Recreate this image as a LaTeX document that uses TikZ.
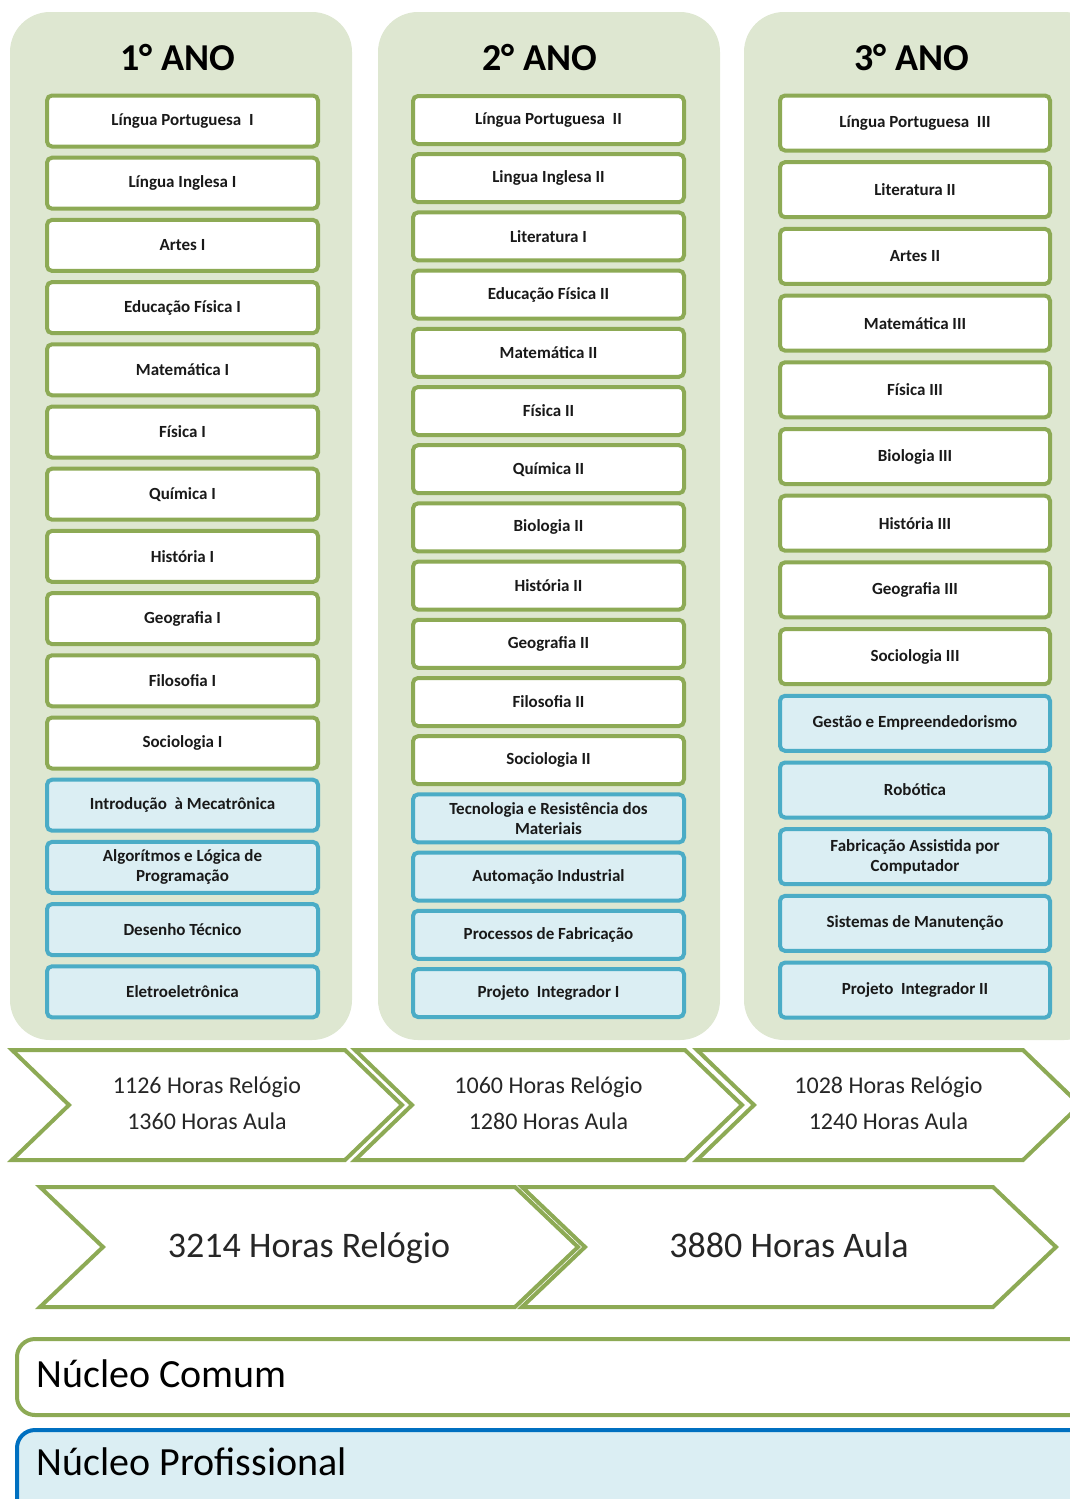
\documentclass[tikz,border=0pt]{standalone}
\usepackage{fontspec}
\setmainfont{Carlito}
\usepackage{tikz}
\definecolor{yearFill}{HTML}{DEE7D1}
\definecolor{commonLine}{HTML}{8DAA55}
\definecolor{profLine}{HTML}{4BACC6}
\definecolor{profFill}{HTML}{DBEEF3}
\definecolor{legendLine}{HTML}{0070C0}
\definecolor{hoursText}{HTML}{262626}

\begin{document}
\begin{tikzpicture}[
  x=1pt,
  y=-1pt,
  every year/.style={
    fill=yearFill,
    rounded corners=40pt,
  },
  year title/.style={
    font=\bfseries\fontsize{38}{40}\selectfont,
  },
  every subject/.style={
    draw,
    line width=4pt,
    rounded corners=5pt,
    inner sep=0pt,
    align=center,
    text=black!90,
    font=\bfseries\fontsize{17}{20}\selectfont,
  },
  common subject/.style={
    every subject/.try,
    draw=commonLine,
    fill=white,
  },
  prof subject/.style={
    every subject/.try,
    draw=profLine,
    fill=profFill,
  },
  col one/.style={minimum width=271pt, minimum height=51pt},
  col two/.style={minimum width=271pt, minimum height=48pt},
  col three/.style={minimum width=270pt, minimum height=55pt},
  chevron/.style={
    draw=commonLine,
    line width=4pt,
    fill=white,
  },
  hours/.style={
    align=center,
    text=hoursText,
    font=\fontsize{24}{36}\selectfont,
  },
  total hours/.style={
    anchor=base,
    text=hoursText,
    font=\fontsize{36}{40}\selectfont,
  },
  legend text/.style={
    anchor=base west,
    font=\fontsize{40}{44}\selectfont,
  }
]
\useasboundingbox (0,0) rectangle (1070,1499);
% year columns
\foreach \x/\w in {10/342, 378/342, 744/360}
  \fill[every year] (\x,12) rectangle ++(\w,1028);
\node[year title] (t1) at (178,58) {1° ANO};
\node[year title] (t2) at (540,58) {2° ANO};
\node[year title] (t3) at (912,58) {3° ANO};
% 1st year
\foreach[count=\k from 0] \s in {Língua Portuguesa~ I, Língua Inglesa I, Artes I,
  Educação Física I, Matemática I, Física I, Química I, História I, Geografia I,
  Filosofia I, Sociologia I}
  \node[common subject, col one] (a\k) at (182.5,{121+62.2*\k}) {\s};
\foreach[count=\k from 11] \s in {Introdução~ à Mecatrônica,
  Algorítmos e Lógica de\\Programação, Desenho Técnico, Eletroeletrônica}
  \node[prof subject, col one] (a\k) at (182.5,{121+62.2*\k}) {\s};
% 2nd year
\foreach[count=\k from 0] \s in {Língua Portuguesa~ II, Lingua Inglesa II, Literatura I,
  Educação Física II, Matemática II, Física II, Química II, Biologia II, História II,
  Geografia II, Filosofia II, Sociologia II}
  \node[common subject, col two] (b\k) at (548.5,{120+58.2*\k}) {\s};
\foreach[count=\k from 12] \s in {Tecnologia e Resistência dos\\Materiais,
  Automação Industrial, Processos de Fabricação, Projeto~ Integrador I}
  \node[prof subject, col two] (b\k) at (548.5,{120+58.2*\k}) {\s};
% 3rd year
\foreach[count=\k from 0] \s in {Língua Portuguesa~ III, Literatura II, Artes II,
  Matemática III, Física III, Biologia III, História III, Geografia III, Sociologia III}
  \node[common subject, col three] (c\k) at (915,{123+66.7*\k}) {\s};
\foreach[count=\k from 9] \s in {Gestão e Empreendedorismo, Robótica,
  Fabricação Assistida por\\Computador, Sistemas de Manutenção, Projeto~ Integrador II}
  \node[prof subject, col three] (c\k) at (915,{123+66.7*\k}) {\s};
% hours per year
\foreach[count=\k] \xa/\xb/\rel/\aula in {12/345/1126/1360, 355/685/1060/1280, 697/1023/1028/1240}
{
  \draw[chevron] (\xa,1050) -- (\xb,1050) -- ++(57,55) -- (\xb,1160)
    -- (\xa,1160) -- ++(57,-55) -- cycle;
  \node[hours] (h\k) at ({(\xa+\xb+57)/2},1103) {\rel\ Horas Relógio\\\aula\ Horas Aula};
}
% total hours
\foreach[count=\k] \xa/\xb/\txt in {40/515/3214 Horas Relógio, 522/993/3880 Horas Aula}
{
  \draw[chevron] (\xa,1187) -- (\xb,1187) -- ++(63,60) -- (\xb,1307)
    -- (\xa,1307) -- ++(63,-60) -- cycle;
  \node[total hours] (s\k) at ({(\xa+\xb+63)/2},1257) {\txt};
}
% legend
\draw[commonLine, line width=4pt, fill=white, rounded corners=18pt] (17,1339) rectangle (1100,1415);
\node[legend text] (nc) at (33,1387) {Núcleo Comum};
\draw[legendLine, line width=4pt, fill=profFill, rounded corners=18pt] (17,1430) rectangle (1100,1540);
\node[legend text] (np) at (33,1475) {Núcleo Profissional};
\end{tikzpicture}
\end{document}
